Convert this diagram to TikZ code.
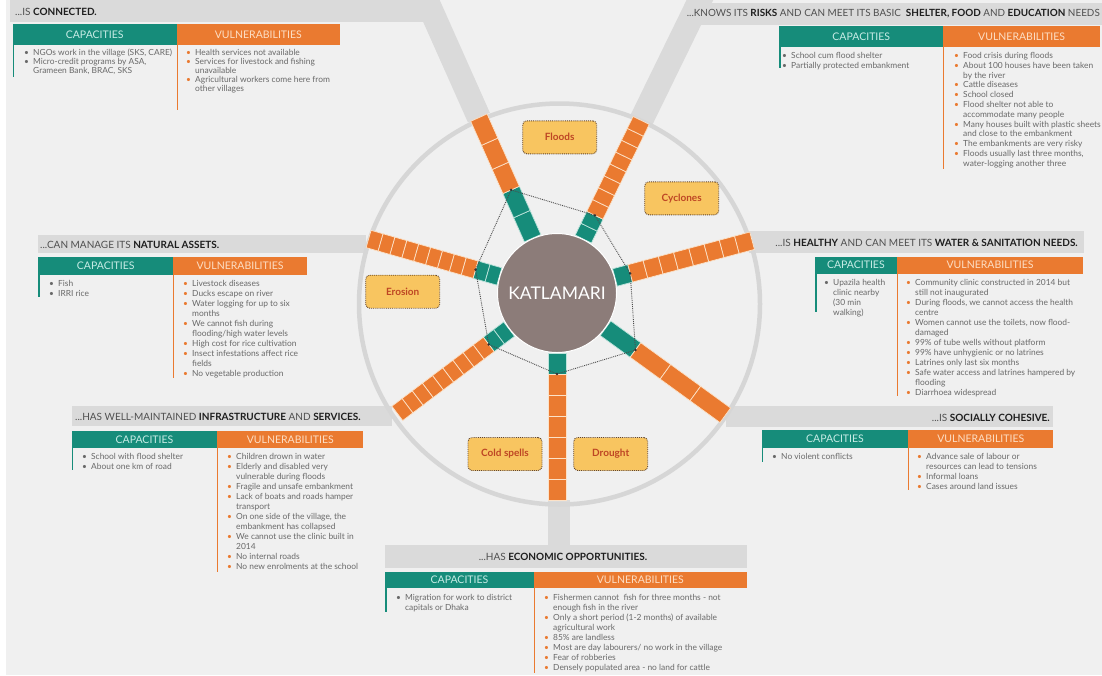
\documentclass[tikz,border=0pt]{standalone}
\usepackage{fontspec}
\setmainfont{Lato}
\definecolor{bg}{RGB}{240,240,240}
\definecolor{band}{RGB}{218,218,218}
\definecolor{ringc}{RGB}{214,214,214}
\definecolor{tealC}{RGB}{22,140,122}
\definecolor{orC}{RGB}{234,122,48}
\definecolor{segT}{RGB}{190,228,220}
\definecolor{segO}{RGB}{252,226,200}
\definecolor{hub}{RGB}{140,124,121}
\definecolor{riskF}{RGB}{248,197,96}
\definecolor{riskT}{RGB}{190,70,36}
\definecolor{riskD}{RGB}{100,70,45}
\definecolor{txt}{RGB}{105,105,105}
\definecolor{htxt}{RGB}{80,80,80}
\definecolor{hbold}{RGB}{30,30,30}
\definecolor{capT}{RGB}{200,236,230}
\definecolor{vulT}{RGB}{253,222,196}
\newlength{\bw}\setlength{\bw}{9pt}
\newcommand{\cb}{\makebox[\bw][l]{\textcolor{txt}{\textbullet}}}
\newcommand{\vb}{\makebox[\bw][l]{\textcolor{orC}{\textbullet}}}
\newcommand{\ci}{\hspace*{\bw}}
\newcommand{\hb}[1]{\textbf{\textcolor{hbold}{#1}}}
\tikzset{
  lst/.style={anchor=base west, inner sep=0pt, text=txt, font=\fontsize{8.4}{10}\selectfont},
  hdr/.style={inner sep=0pt, text=htxt, font=\fontsize{10}{12}\selectfont},
  caph/.style={fill=tealC, text=capT, inner sep=0pt, font=\fontsize{10.5}{12}\selectfont},
  vulh/.style={fill=orC, text=vulT, inner sep=0pt, font=\fontsize{10.5}{12}\selectfont},
  capline/.style={draw=tealC, line width=1.5pt},
  vulline/.style={draw=orC, line width=1pt},
  tealseg/.style={fill=tealC, draw=segT, line width=0.7pt},
  orseg/.style={fill=orC, draw=segO, line width=0.7pt},
  bandline/.style={draw=band, line width=24pt},
  risk/.style={draw=riskD, densely dotted, line width=0.9pt, fill=riskF, rounded corners=4pt,
    minimum width=74pt, minimum height=33pt, text=riskT, inner sep=0pt,
    font=\fontsize{10}{12}\selectfont\bfseries},
}
\newcommand{\bandray}[2]{%
  \begin{scope}[shift={(557,293)},rotate=#1]
    \draw[bandline] (#2,0) -- ({#2+170},0);
  \end{scope}}
\newcommand{\drawspoke}[5]{%
  \begin{scope}[shift={(557,293)},rotate=#2]
    \pgfmathsetmacro{\seglen}{(#3-60)/#5}
    \foreach \i in {1,...,#4}{\draw[tealseg] ({60+(\i-1)*\seglen},-9) rectangle ({60+\i*\seglen},9);}
    \pgfmathtruncatemacro{\nfirst}{#4+1}
    \foreach \i in {\nfirst,...,#5}{\draw[orseg] ({60+(\i-1)*\seglen},-9) rectangle ({60+\i*\seglen},9);}
    \coordinate (#1) at ({60+#4*\seglen},0);
  \end{scope}}
\newcommand{\tabhead}[8]{%
  \node[caph, minimum width={#3-#2}, minimum height={#6-#5}] (#1c) at ({(#2+#3)/2},{(#5+#6)/2}) {CAPACITIES};
  \node[vulh, minimum width={#4-#3}, minimum height={#6-#5}] (#1v) at ({(#3+#4)/2},{(#5+#6)/2}) {VULNERABILITIES};
  \draw[capline] ({#2+0.75},#6) -- ({#2+0.75},#7);
  \draw[vulline] ({#3+0.5},#6) -- ({#3+0.5},#8);}
\begin{document}
\begin{tikzpicture}[x=1pt,y=-1pt]
\useasboundingbox (0,0) rectangle (1102,675);
\clip (0,0) rectangle (1102,675);
\fill[bg] (0,0) rectangle (1102,675);
\fill[white] (0,0) rectangle (6,675);
% gray bands
\fill[band] (10,0) rectangle (426,22);
\bandray{114}{192}
\fill[band] (692,3) rectangle (1102,25);
\bandray{64}{192}
\fill[band] (38,235) rectangle (366,253);
\fill[band] (749,231) rectangle (1084,253);
\fill[band] (72,406) rectangle (392,426);
\fill[band] (726,406) rectangle (1053,427);
\fill[band] (548,500) rectangle (570,546);
\fill[band] (385,545) rectangle (747,568);
% big ring
\draw[ringc, line width=4.5pt] (559.5,304) circle (200.5pt);
% spokes
\drawspoke{s1}{114}{192}{2}{5}
\drawspoke{s2}{64}{192}{2}{10}
\drawspoke{s3}{15}{202}{1}{9}
\drawspoke{s4}{-36}{208}{1}{4}
\drawspoke{s5}{-90}{207}{1}{7}
\drawspoke{s6}{-143}{200}{2}{11}
\drawspoke{s7}{164}{196}{2}{11}
\draw[black!70, densely dotted, line width=0.9pt] (s1) -- (s2) -- (s3) -- (s4) -- (s5) -- (s6) -- (s7) -- cycle;
\foreach \p in {s1,s2,s3,s4,s5,s6,s7}{\fill[black!80] (\p) circle (1.4pt);}
% hub
\node[circle, fill=hub, draw=white, line width=1pt, minimum size=119pt, inner sep=0pt, text=white,
  font=\fontsize{17.5}{20}\selectfont] (hub) at (557,293) {KATLAMARI};
% risks
\node[risk] (floods) at (559.7,137.3) {Floods};
\node[risk] (cyclones) at (681.7,198.3) {Cyclones};
\node[risk] (erosion) at (402.7,291.7) {Erosion};
\node[risk] (cold) at (505,454) {Cold spells};
\node[risk] (drought) at (610.7,454) {Drought};
% header texts
\node[hdr, anchor=west] (h1) at (15,11.5) {...IS \hb{CONNECTED.}};
\node[hdr, anchor=west, font=\fontsize{9.9}{11}\selectfont] (h2) at (686.7,14) {...KNOWS ITS \hb{RISKS} AND CAN MEET ITS BASIC\ \ \hb{SHELTER, FOOD} AND \hb{EDUCATION} NEEDS};
\node[hdr, anchor=west] (h3) at (40,245) {...CAN MANAGE ITS \hb{NATURAL ASSETS.}};
\node[hdr, anchor=east] (h4) at (1078,243) {...IS \hb{HEALTHY} AND CAN MEET ITS \hb{WATER \& SANITATION NEEDS.}};
\node[hdr, anchor=west] (h5) at (75,417) {...HAS WELL-MAINTAINED \hb{INFRASTRUCTURE} AND \hb{SERVICES.}};
\node[hdr, anchor=east] (h6) at (1050,418) {...IS \hb{SOCIALLY COHESIVE.}};
\node[hdr] (h7) at (563,557) {...HAS \hb{ECONOMIC OPPORTUNITIES.}};
% tables
\tabhead{p1}{12.7}{176.7}{340}{24}{45}{77}{110}
\tabhead{p2}{779.3}{943.3}{1100}{26}{46.5}{68}{169}
\tabhead{p3}{38.3}{173.3}{306.7}{256.7}{275}{297}{378}
\tabhead{p4}{815}{896.7}{1083.3}{256.7}{273.5}{312}{396}
\tabhead{p5}{71.7}{217.3}{363.3}{430.7}{448.3}{470}{572}
\tabhead{p6}{761.7}{908.3}{1053.3}{430}{448.3}{462}{490}
\tabhead{p7}{385}{534}{746.7}{571.7}{588.3}{612}{673}
% lists
\node[lst, font=\fontsize{8.4}{9}\selectfont] (l1c) at (24,55.5) {\parbox[t]{160pt}{\cb NGOs work in the village (SKS, CARE)\\ \cb Micro-credit programs by ASA,\\ \ci Grameen Bank, BRAC, SKS}};
\node[lst, font=\fontsize{8.4}{9}\selectfont] (l1v) at (186,55.5) {\parbox[t]{170pt}{\vb Health services not available\\ \vb Services for livestock and fishing\\ \ci unavailable\\ \vb Agricultural workers come here from\\ \ci other villages}};
\node[lst, font=\fontsize{8.4}{9.8}\selectfont] (l2c) at (782,58.5) {\parbox[t]{160pt}{\cb School cum flood shelter\\ \cb Partially protected embankment}};
\node[lst, font=\fontsize{8.4}{9.8}\selectfont] (l2v) at (954,58.5) {\parbox[t]{170pt}{\vb Food crisis during floods\\ \vb About 100 houses have been taken\\ \ci by the river\\ \vb Cattle diseases\\ \vb School closed\\ \vb Flood shelter not able to\\ \ci accommodate many people\\ \vb Many houses built with plastic sheets\\ \ci and close to the embankment\\ \vb The embankments are very risky\\ \vb Floods usually last three months,\\ \ci water-logging another three}};
\node[lst] (l3c) at (49,286.5) {\parbox[t]{120pt}{\cb Fish\\ \cb IRRI rice}};
\node[lst] (l3v) at (183,286.5) {\parbox[t]{160pt}{\vb Livestock diseases\\ \vb Ducks escape on river\\ \vb Water logging for up to six\\ \ci months\\ \vb We cannot fish during\\ \ci flooding/high water levels\\ \vb High cost for rice cultivation\\ \vb Insect infestations affect rice\\ \ci fields\\ \vb No vegetable production}};
\node[lst] (l4c) at (824,285.5) {\parbox[t]{80pt}{\cb Upazila health\\ \ci clinic nearby\\ \ci (30 min\\ \ci walking)}};
\node[lst] (l4v) at (906,285.5) {\parbox[t]{190pt}{\vb Community clinic constructed in 2014 but\\ \ci still not inaugurated\\ \vb During floods, we cannot access the health\\ \ci centre\\ \vb Women cannot use the toilets, now flood-\\ \ci damaged\\ \vb 99\% of tube wells without platform\\ \vb 99\% have unhygienic or no latrines\\ \vb Latrines only last six months\\ \vb Safe water access and latrines hampered by\\ \ci flooding\\ \vb Diarrhoea widespread}};
\node[lst] (l5c) at (82,459.5) {\parbox[t]{140pt}{\cb School with flood shelter\\ \cb About one km of road}};
\node[lst] (l5v) at (227,459.5) {\parbox[t]{160pt}{\vb Children drown in water\\ \vb Elderly and disabled very\\ \ci vulnerable during floods\\ \vb Fragile and unsafe embankment\\ \vb Lack of boats and roads hamper\\ \ci transport\\ \vb On one side of the village, the\\ \ci embankment has collapsed\\ \vb We cannot use the clinic built in\\ \ci 2014\\ \vb No internal roads\\ \vb No new enrolments at the school}};
\node[lst] (l6c) at (772,459.5) {\parbox[t]{140pt}{\cb No violent conflicts}};
\node[lst] (l6v) at (917,459.5) {\parbox[t]{160pt}{\vb Advance sale of labour or\\ \ci resources can lead to tensions\\ \vb Informal loans\\ \vb Cases around land issues}};
\node[lst] (l7c) at (396,600.5) {\parbox[t]{140pt}{\cb Migration for work to district\\ \ci capitals or Dhaka}};
\node[lst] (l7v) at (544,600.5) {\parbox[t]{210pt}{\vb Fishermen cannot\ \ fish for three months - not\\ \ci enough fish in the river\\ \vb Only a short period (1-2 months) of available\\ \ci agricultural work\\ \vb 85\% are landless\\ \vb Most are day labourers/ no work in the village\\ \vb Fear of robberies\\ \vb Densely populated area - no land for cattle}};
\end{tikzpicture}
\end{document}
